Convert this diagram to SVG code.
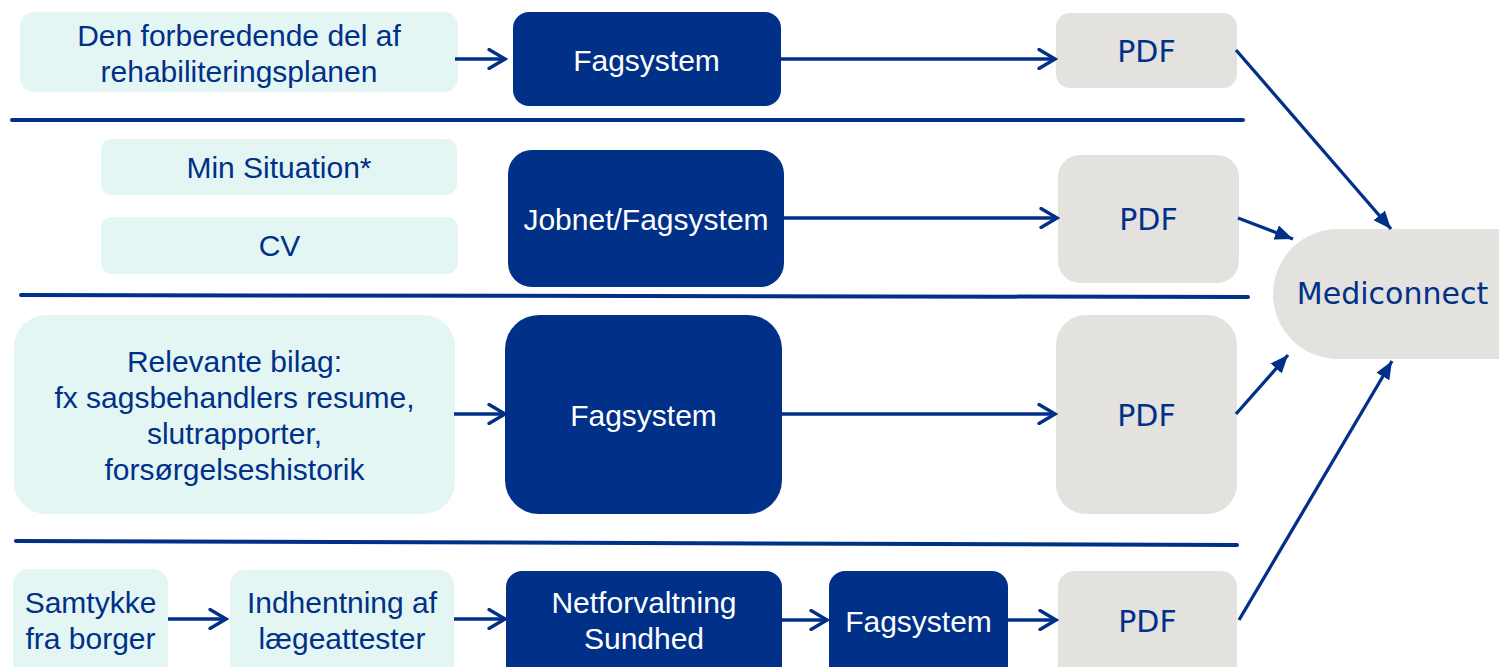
<svg xmlns="http://www.w3.org/2000/svg" width="1499" height="667" viewBox="0 0 1499 667">
<style>
.lt{fill:#E3F6F4}
.dk{fill:#003087}
.gy{fill:#E3E2DF}
.tl{font-family:"Liberation Sans",Arial,sans-serif;font-size:30px;fill:#003087;text-anchor:middle}
.tw{font-family:"Liberation Sans",Arial,sans-serif;font-size:30px;fill:#FFFFFF;text-anchor:middle}
.tg{font-family:"DejaVu Sans",Verdana,sans-serif;font-size:30px;fill:#003087;text-anchor:middle}
.sep{stroke:#003087;stroke-width:4;stroke-linecap:round;fill:none}
.ln{stroke:#003087;stroke-width:3.3;fill:none}
.open{marker-end:url(#openArrow)}
.fill{marker-end:url(#fillArrow)}
</style>
<defs>
<marker id="openArrow" markerUnits="userSpaceOnUse" viewBox="0 0 22 22" markerWidth="22" markerHeight="22" refX="19" refY="11" orient="auto">
<path d="M3,1.5 L19,11 L3,20.5" fill="none" stroke="#003087" stroke-width="3.3" stroke-linecap="round" stroke-linejoin="miter"/>
</marker>
<marker id="fillArrow" markerUnits="userSpaceOnUse" viewBox="0 0 20 16" markerWidth="20" markerHeight="16" refX="18" refY="8" orient="auto">
<path d="M0,0.5 L18,8 L0,15.5 Z" fill="#003087"/>
</marker>
</defs>

<g id="separators">
<line class="sep" x1="12" y1="120" x2="1243" y2="120"/>
<line class="sep" x1="21" y1="295" x2="1248" y2="297"/>
<line class="sep" x1="16" y1="541" x2="1237" y2="545"/>
</g>

<g id="n1-src"><rect class="lt" x="20" y="12" width="438" height="80" rx="14"/>
<text class="tl" x="239" y="46">Den forberedende del af</text>
<text class="tl" x="239" y="82">rehabiliteringsplanen</text></g>
<g id="n1-fag"><rect class="dk" x="513" y="12" width="268" height="94" rx="16"/>
<text class="tw" x="646.5" y="71">Fagsystem</text></g>
<g id="n1-pdf"><rect class="gy" x="1056" y="13" width="181" height="75" rx="14"/>
<text class="tg" x="1146.5" y="62">PDF</text></g>

<g id="n2-min"><rect class="lt" x="101" y="139" width="356" height="56" rx="11"/>
<text class="tl" x="279" y="178">Min Situation*</text></g>
<g id="n2-cv"><rect class="lt" x="101" y="217" width="357" height="57" rx="11"/>
<text class="tl" x="279.5" y="256">CV</text></g>
<g id="n2-job"><rect class="dk" x="508" y="150" width="276" height="137" rx="24"/>
<text class="tw" x="646" y="230">Jobnet/Fagsystem</text></g>
<g id="n2-pdf"><rect class="gy" x="1058" y="155" width="181" height="128" rx="22"/>
<text class="tg" x="1148.5" y="230">PDF</text></g>

<g id="n3-src"><rect class="lt" x="14" y="315" width="441" height="199" rx="32"/>
<text class="tl" x="234.5" y="372">Relevante bilag:</text>
<text class="tl" x="234.5" y="408">fx sagsbehandlers resume,</text>
<text class="tl" x="234.5" y="444">slutrapporter,</text>
<text class="tl" x="234.5" y="480">forsørgelseshistorik</text></g>
<g id="n3-fag"><rect class="dk" x="505" y="315" width="277" height="199" rx="34"/>
<text class="tw" x="643.5" y="426">Fagsystem</text></g>
<g id="n3-pdf"><rect class="gy" x="1056" y="315" width="181" height="199" rx="30"/>
<text class="tg" x="1146.5" y="426">PDF</text></g>

<g id="n4-sam"><rect class="lt" x="13" y="569" width="155" height="120" rx="15"/>
<text class="tl" x="90.5" y="613">Samtykke</text>
<text class="tl" x="90.5" y="649">fra borger</text></g>
<g id="n4-ind"><rect class="lt" x="230" y="570" width="224" height="120" rx="15"/>
<text class="tl" x="342" y="613">Indhentning af</text>
<text class="tl" x="342" y="649">lægeattester</text></g>
<g id="n4-net"><rect class="dk" x="506" y="571" width="276" height="120" rx="16"/>
<text class="tw" x="644" y="613">Netforvaltning</text>
<text class="tw" x="644" y="649">Sundhed</text></g>
<g id="n4-fag"><rect class="dk" x="829" y="571" width="179" height="120" rx="16"/>
<text class="tw" x="918.5" y="632">Fagsystem</text></g>
<g id="n4-pdf"><rect class="gy" x="1058" y="571" width="179" height="120" rx="16"/>
<text class="tg" x="1147.5" y="632">PDF</text></g>

<g id="mediconnect"><rect class="gy" x="1273" y="229" width="300" height="130" rx="65"/>
<text class="tg" x="1392.5" y="304">Mediconnect</text></g>

<g id="connectors">
<line class="ln open" x1="455" y1="59" x2="505" y2="59"/>
<line class="ln open" x1="781" y1="59" x2="1055" y2="59"/>
<line class="ln open" x1="784" y1="218" x2="1057" y2="218"/>
<line class="ln open" x1="454" y1="414" x2="505" y2="414"/>
<line class="ln open" x1="782" y1="414" x2="1055" y2="414"/>
<line class="ln open" x1="168" y1="619" x2="226" y2="619"/>
<line class="ln open" x1="454" y1="619" x2="505" y2="619"/>
<line class="ln open" x1="782" y1="620" x2="827" y2="620"/>
<line class="ln open" x1="1008" y1="620" x2="1056" y2="620"/>
<line class="ln fill" x1="1236" y1="50" x2="1391" y2="229"/>
<line class="ln fill" x1="1238" y1="218" x2="1293" y2="239"/>
<line class="ln fill" x1="1236" y1="414" x2="1288" y2="355"/>
<line class="ln fill" x1="1239" y1="620" x2="1392" y2="361"/>
</g>
</svg>
